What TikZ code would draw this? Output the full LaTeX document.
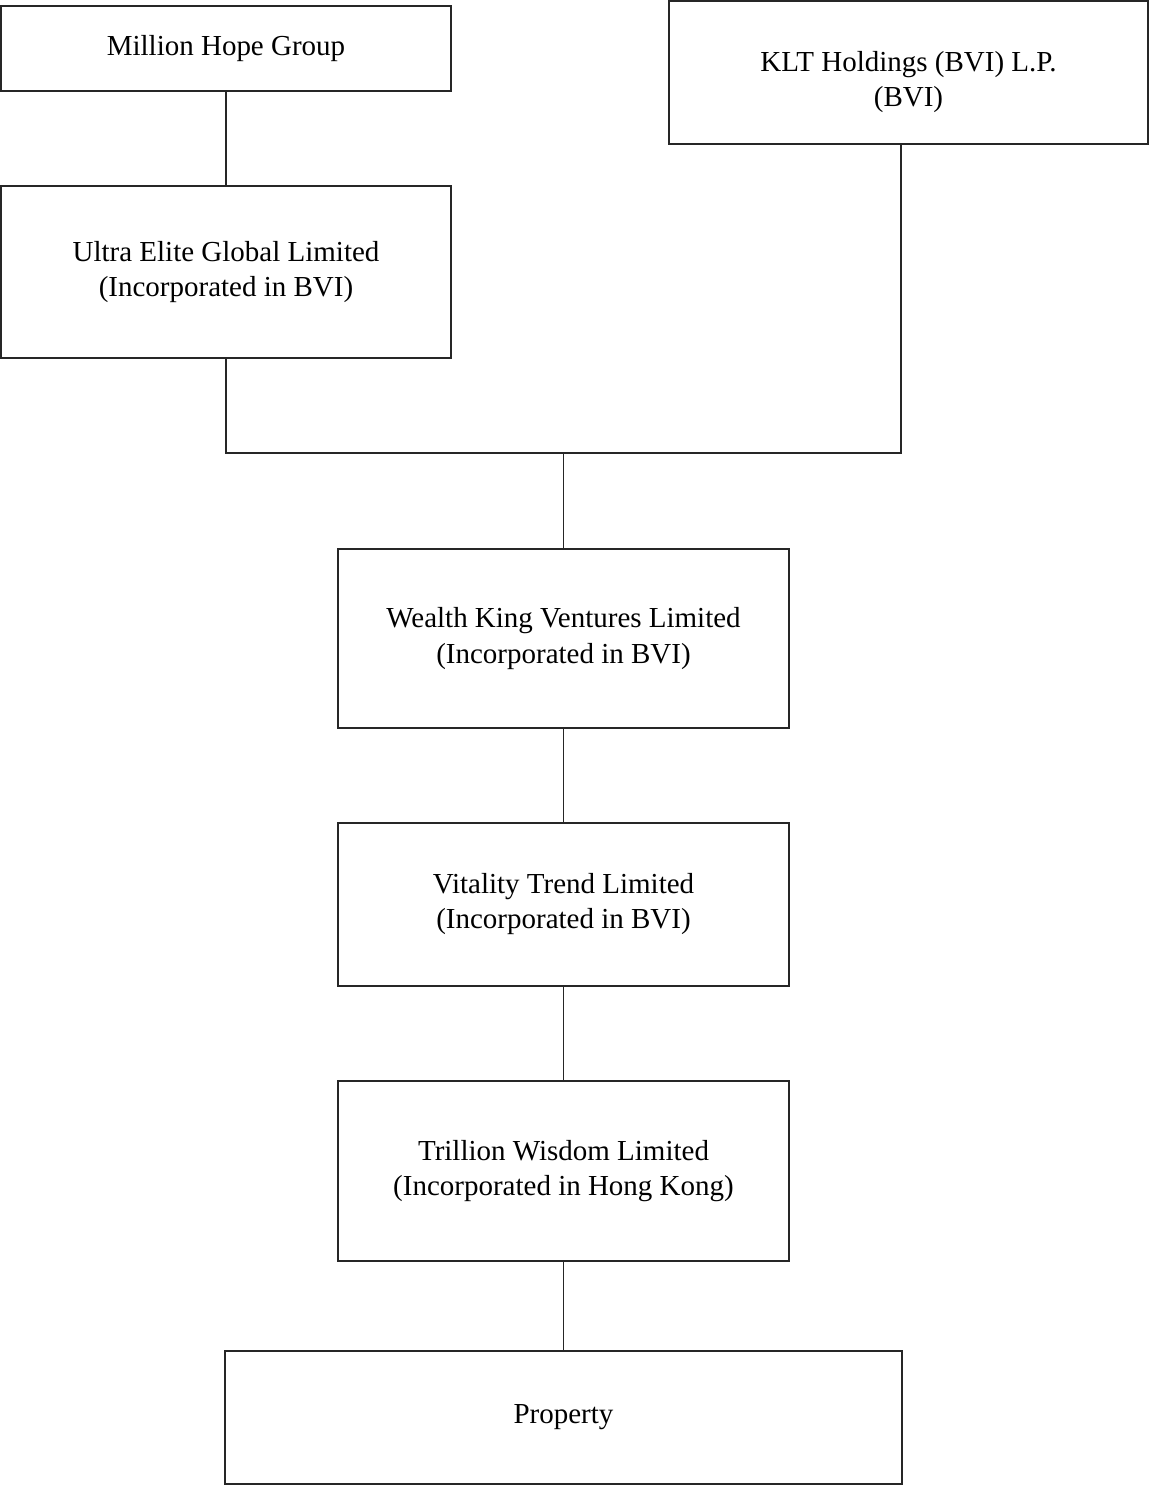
\documentclass[tikz,border=0pt]{standalone}
\usepackage{fontspec}
\setmainfont{Liberation Serif}
\usetikzlibrary{positioning}

\begin{document}
\begin{tikzpicture}[
    x=0.02cm, y=-0.02cm,
    node distance=1.86cm,
    block/.style={rectangle, draw=black!85, line width=1.1pt, align=center, inner sep=0pt, font=\fontsize{16.5}{20}\selectfont},
    line/.style={draw=black!85, line width=1.1pt}
]
    \useasboundingbox (0,0) rectangle (1149,1486);

    \node [block, minimum width=9cm, minimum height=1.7cm] (mhg) at (226,48.5) {Million Hope Group};
    \node [block, minimum width=9.58cm, minimum height=2.86cm] (klt) at (908.5,72.5) {\rule{0pt}{22pt}KLT Holdings (BVI) L.P.\\(BVI)};
    \node [block, minimum width=9cm, minimum height=3.44cm] (ueg) at (226,272) {Ultra Elite Global Limited\\(Incorporated in BVI)};
    \node [block, minimum width=9.02cm, minimum height=3.58cm] (wkv) at (563.5,638.5) {Wealth King Ventures Limited\\(Incorporated in BVI)};
    \node [block, minimum width=9.02cm, minimum height=3.26cm, below=of wkv] (vtl) {Vitality Trend Limited\\(Incorporated in BVI)};
    \node [block, minimum width=9.02cm, minimum height=3.6cm, below=of vtl] (twl) {Trillion Wisdom Limited\\(Incorporated in Hong Kong)};
    \node [block, minimum width=13.56cm, minimum height=2.66cm, below=1.76cm of twl] (prop) {Property};

    \coordinate (join) at (563.5,453);
    \coordinate (kltdrop) at (901,453);

    \path [line] (mhg) -- (ueg);
    \path [line] (ueg.south) |- (kltdrop) -- (kltdrop |- klt.south);
    \path [line] (join) -- (wkv);
    \path [line] (wkv) -- (vtl);
    \path [line] (vtl) -- (twl);
    \path [line] (twl) -- (prop);
\end{tikzpicture}
\end{document}
